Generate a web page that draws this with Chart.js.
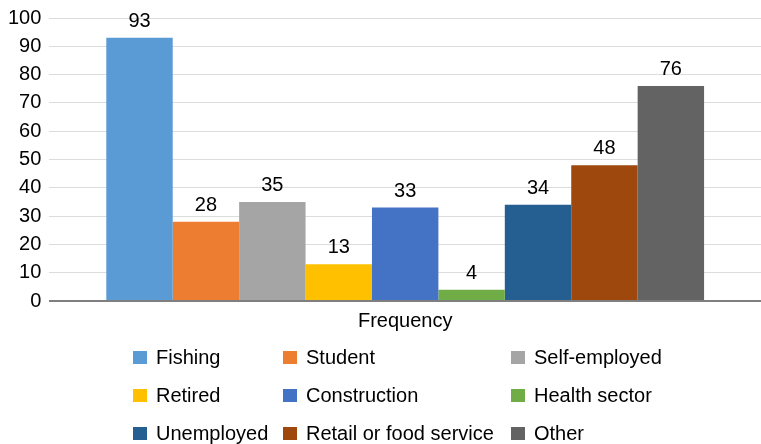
<!DOCTYPE html>
<html>
<head>
<meta charset="utf-8">
<script src="https://cdn.jsdelivr.net/npm/chart.js@4/dist/chart.umd.min.js"></script>
<style>
  html, body { margin: 0; padding: 0; background: #fff; }
  #wrap { position: relative; width: 761px; height: 444px; }
  #legend { position: absolute; left: 0; top: 0; width: 761px; height: 444px; pointer-events: none;
    font-family: "Liberation Sans", Arial, Helvetica, sans-serif; font-size: 20px; color: #000; }
  .item { position: absolute; display: flex; align-items: center; white-space: nowrap; height: 24px; }
  .box { width: 14px; height: 13px; margin-right: 9px; }
</style>
</head>
<body>
<div id="wrap">
  <canvas id="chart" width="761" height="444"></canvas>
  <div id="legend"></div>
</div>
<script>
const categories = ["Frequency"]
const seriesNames = ["Fishing", "Student", "Self-employed", "Retired", "Construction", "Health sector", "Unemployed", "Retail or food service", "Other"]
const seriesValues = [93, 28, 35, 13, 33, 4, 34, 48, 76]
const seriesColors = ["#5B9BD5", "#ED7D31", "#A5A5A5", "#FFC000", "#4472C4", "#70AD47", "#255E91", "#9E480E", "#636363"]
const yTicks = [0, 10, 20, 30, 40, 50, 60, 70, 80, 90, 100]

const FONT = "'Liberation Sans', Arial, Helvetica, sans-serif"

// value labels above each bar
const barLabels = {
    id: 'barLabels',
    afterDatasetsDraw(chart){
        let ctx = chart.ctx
        ctx.save()
        ctx.font = "20px " + FONT
        ctx.fillStyle = "#000"
        ctx.textAlign = "center"
        ctx.textBaseline = "alphabetic"
        chart.data.datasets.forEach((ds, i) => {
            let meta = chart.getDatasetMeta(i)
            meta.data.forEach((bar, j) => {
                ctx.fillText(String(ds.data[j]), bar.x, bar.y - 11)
            })
        })
        ctx.restore()
    }
}

let datasets = []
for (let i = 0; i < seriesNames.length; i++){
    datasets.push({
        label: seriesNames[i],
        data: [seriesValues[i]],
        backgroundColor: seriesColors[i],
        borderWidth: 0
    })
}

let ctxEl = document.getElementById("chart")
let myChart = new Chart(ctxEl, {
    type: 'bar',
    data: {
        labels: categories,
        datasets: datasets
    },
    options: {
        responsive: false,
        animation: false,
        devicePixelRatio: 1,
        layout: {
            padding: {top: 0, right: 0, left: 0, bottom: 103}
        },
        datasets: {
            bar: {categoryPercentage: 0.84, barPercentage: 1}
        },
        plugins: {
            legend: {display: false},
            tooltip: {enabled: false}
        },
        scales: {
            x: {
                grid: {display: false, drawTicks: false},
                border: {display: false},
                ticks: {color: "#000", font: {family: FONT, size: 20}, padding: 8}
            },
            y: {
                min: 0,
                max: 100,
                afterBuildTicks(axis){
                    axis.ticks = yTicks.map(v => ({value: v}))
                },
                grid: {
                    drawTicks: false,
                    color: c => c.tick && c.tick.value === 0 ? "#7f7f7f" : "#dcdcdc",
                    lineWidth: c => c.tick && c.tick.value === 0 ? 2 : 1
                },
                border: {display: false},
                ticks: {color: "#000", font: {family: FONT, size: 20, lineHeight: 1}, padding: 8}
            }
        }
    },
    plugins: [barLabels]
})

// legend in 3 columns like the original
let legendEl = document.getElementById("legend")
let colLeft = [133, 283, 511]
let rowMid = [357, 395, 433]
seriesNames.forEach((name, i) => {
    let item = document.createElement("div")
    item.className = "item"
    item.style.left = colLeft[i % 3] + "px"
    item.style.top = (rowMid[Math.floor(i / 3)] - 12) + "px"
    let box = document.createElement("span")
    box.className = "box"
    box.style.background = seriesColors[i]
    let txt = document.createElement("span")
    txt.textContent = name
    item.appendChild(box)
    item.appendChild(txt)
    legendEl.appendChild(item)
})
</script>
</body>
</html>
